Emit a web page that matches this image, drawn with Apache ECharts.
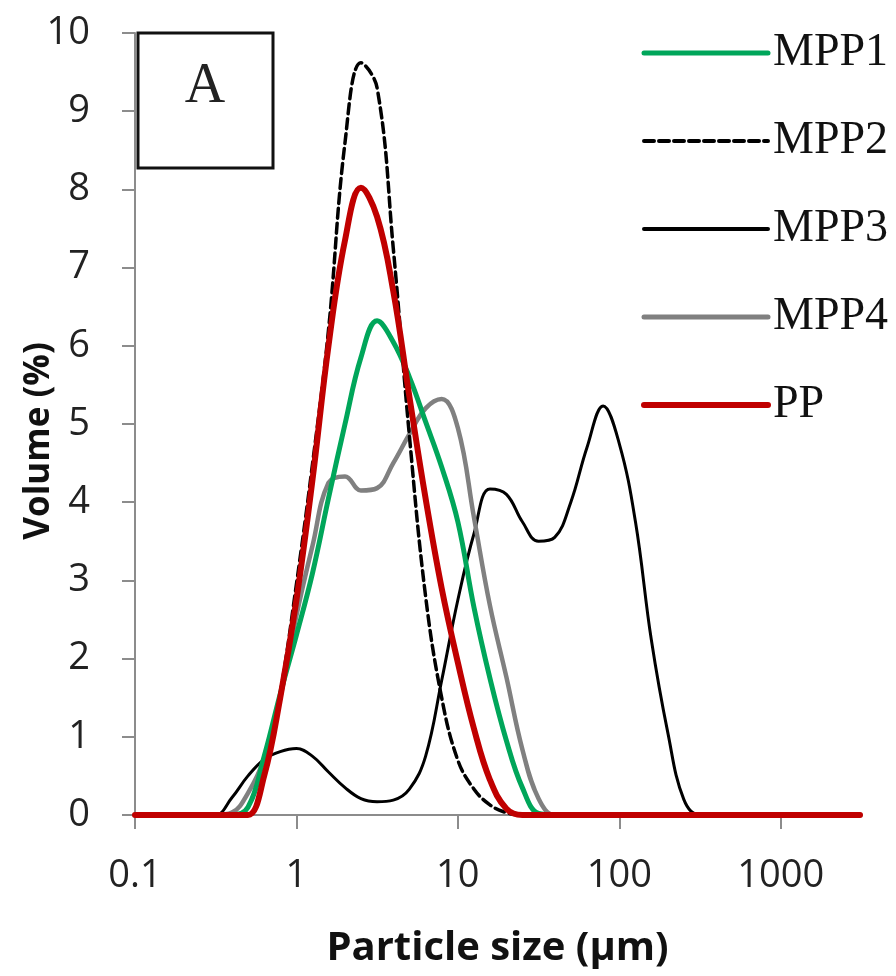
<!DOCTYPE html>
<html>
<head>
<meta charset="utf-8">
<script src="https://cdn.jsdelivr.net/npm/echarts@6/dist/echarts.min.js"></script>
<style>
  html, body { margin: 0; padding: 0; background: #fff; }
  #chart { width: 896px; height: 976px; }
</style>
</head>
<body>
<div id="chart"></div>
<script>
// particle size (µm), shared x grid
var sizes = [0.1, 0.2, 0.251, 0.316, 0.398, 0.501, 0.631, 0.794, 1, 1.26, 1.58, 2, 2.51, 3.16, 3.98, 5.01, 6.31, 7.94,
  10, 12.6, 15.8, 20, 25.1, 31.6, 39.8, 50.1, 63.1, 79.4, 100, 126, 158, 200, 251, 316, 398, 501, 1000, 3100];

// volume (%) per sample
var mpp1 = [0, 0, 0, 0, 0, 0.1, 0.75, 1.55, 2.3, 3.1, 4.05, 5.0, 5.85, 6.32, 6.05, 5.6, 5.03, 4.45,
  3.75, 2.65, 1.75, 0.95, 0.35, 0.02, 0, 0, 0, 0, 0, 0, 0, 0, 0, 0, 0, 0, 0, 0];
var mpp2 = [0, 0, 0, 0, 0, 0, 0.5, 1.55, 2.95, 4.5, 6.2, 8.6, 9.62, 9.3, 7.25, 4.85, 2.8, 1.5,
  0.7, 0.33, 0.13, 0.03, 0, 0, 0, 0, 0, 0, 0, 0, 0, 0, 0, 0, 0, 0, 0, 0];
var mpp3 = [0, 0, 0, 0, 0.22, 0.5, 0.71, 0.81, 0.85, 0.75, 0.55, 0.35, 0.21, 0.17, 0.19, 0.33, 0.75, 1.72,
  2.75, 3.6, 4.17, 4.1, 3.75, 3.5, 3.55, 4.0, 4.7, 5.23, 4.75, 3.75, 2.24, 1.05, 0.2, 0, 0, 0, 0, 0];
var mpp4 = [0, 0, 0, 0, 0.03, 0.28, 0.72, 1.5, 2.55, 3.45, 4.25, 4.33, 4.15, 4.18, 4.5, 4.87, 5.2, 5.32,
  4.95, 3.8, 2.68, 1.76, 0.84, 0.21, 0, 0, 0, 0, 0, 0, 0, 0, 0, 0, 0, 0, 0, 0];
var pp = [0, 0, 0, 0, 0, 0, 0.5, 1.5, 2.75, 4.3, 6.0, 7.35, 8.02, 7.65, 6.7, 5.35, 4.05, 2.9,
  1.95, 1.1, 0.45, 0.08, 0, 0, 0, 0, 0, 0, 0, 0, 0, 0, 0, 0, 0, 0, 0, 0];

var legendItems = [
  { name: 'MPP1', lineStyle: { width: 5 } },
  { name: 'MPP2', lineStyle: { width: 4 } },
  { name: 'MPP3', lineStyle: { width: 4 } },
  { name: 'MPP4', lineStyle: { width: 5 } },
  { name: 'PP', lineStyle: { width: 6 } }
];

function pairs(vals) {
  return sizes.map(function (s, i) { return [s, vals[i]]; });
}

function mkSeries(name, vals, color, width, dash) {
  return {
    name: name,
    type: 'line',
    data: pairs(vals),
    smooth: 0.4,
    symbol: 'none',
    lineStyle: { color: color, width: width, type: dash || 'solid', cap: 'round' },
    itemStyle: { color: color }
  };
}

var chart = echarts.init(document.getElementById('chart'), null, { renderer: 'canvas' });

var option = {
  animation: false,
  backgroundColor: '#fff',
  grid: { left: 135, right: 36, top: 33, bottom: 161, containLabel: false, outerBoundsMode: 'none' },
  legend: {
    data: legendItems,
    orient: 'vertical',
    left: 636,
    top: 25,
    itemWidth: 124,
    itemHeight: 46,
    itemGap: 42,
    selectedMode: false,
    itemStyle: { opacity: 0 },
    textStyle: { fontFamily: 'Liberation Serif', fontSize: 46, color: '#111', lineHeight: 46 }
  },
  xAxis: {
    type: 'log',
    logBase: 10,
    min: 0.1,
    max: 3100,
    name: 'Particle size (µm)',
    nameLocation: 'middle',
    nameGap: 114,
    nameMoveOverlap: false,
    nameTextStyle: { fontFamily: 'Open Sans', fontWeight: 'bold', fontSize: 40, color: '#111' },
    axisLine: { lineStyle: { color: '#8c8c8c', width: 2 } },
    axisTick: { show: true, inside: false, length: 14, lineStyle: { color: '#8c8c8c', width: 2 } },
    minorTick: { show: false },
    splitLine: { show: false },
    axisLabel: {
      margin: 42,
      fontFamily: 'Open Sans',
      fontSize: 38,
      color: '#222',
      formatter: function (v) { return String(+v.toPrecision(3)); }
    }
  },
  yAxis: {
    type: 'value',
    min: 0,
    max: 10,
    interval: 1,
    name: 'Volume (%)',
    nameLocation: 'middle',
    nameGap: 78,
    nameMoveOverlap: false,
    nameTextStyle: { fontFamily: 'Open Sans', fontWeight: 'bold', fontSize: 35, color: '#111', padding: [0, 34, 0, 0] },
    axisLine: { show: true, onZero: false, lineStyle: { color: '#8c8c8c', width: 2 } },
    axisTick: { show: true, inside: false, length: 13, lineStyle: { color: '#8c8c8c', width: 2 } },
    splitLine: { show: false },
    axisLabel: { margin: 45, fontFamily: 'Open Sans', fontSize: 38, color: '#222' }
  },
  graphic: [
    {
      type: 'rect',
      shape: { x: 138, y: 33, width: 135, height: 135 },
      style: { fill: '#fff', stroke: '#111', lineWidth: 3 },
      z: 100
    },
    {
      type: 'text',
      x: 205,
      y: 87,
      z: 101,
      style: {
        text: 'A',
        fontFamily: 'Liberation Serif',
        fontSize: 56,
        fill: '#222',
        align: 'center',
        verticalAlign: 'middle'
      }
    }
  ],
  series: [
    mkSeries('MPP3', mpp3, '#000000', 3),
    mkSeries('MPP4', mpp4, '#808080', 4.5),
    mkSeries('MPP1', mpp1, '#00a65a', 5),
    mkSeries('MPP2', mpp2, '#000000', 3.5, [10, 5]),
    mkSeries('PP', pp, '#c00000', 6)
  ]
};

chart.setOption(option);
</script>
</body>
</html>
